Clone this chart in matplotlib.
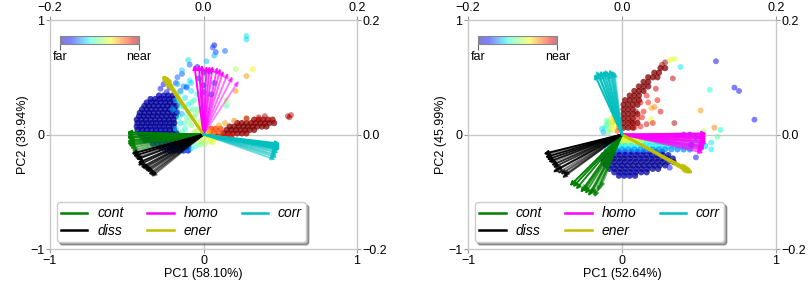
import numpy as np
import matplotlib
matplotlib.use("Agg")
import matplotlib.pyplot as plt
from matplotlib.lines import Line2D
from matplotlib.cm import ScalarMappable
from matplotlib.colors import Normalize

plt.rcParams['font.family'] = ['Liberation Sans', 'DejaVu Sans']

# explained variance per panel
var_a = (58.10, 39.94)
var_b = (52.64, 45.99)

feat_names = ["cont", "diss", "homo", "ener", "corr"]
feat_colors = ["green", "black", "magenta", "y", "c"]

# loading vector tips, left panel
cont_a = [(-0.50, 0.02), (-0.50, 0.00), (-0.50, -0.02), (-0.50, -0.03), (-0.49, -0.05),
          (-0.50, -0.06), (-0.50, -0.08), (-0.49, -0.09), (-0.49, -0.10), (-0.48, -0.12),
          (-0.47, -0.14), (-0.47, -0.16), (-0.50, 0.01), (-0.49, -0.07)]
diss_a = [(-0.47, -0.17), (-0.46, -0.19), (-0.44, -0.22), (-0.43, -0.25), (-0.43, -0.27),
          (-0.41, -0.29), (-0.40, -0.30), (-0.38, -0.32), (-0.37, -0.33), (-0.36, -0.35),
          (-0.35, -0.36), (-0.34, -0.37), (-0.45, -0.21), (-0.39, -0.31)]
homo_a = [(-0.06, 0.61), (-0.03, 0.61), (-0.01, 0.61), (0.02, 0.60), (0.04, 0.60),
          (0.06, 0.60), (0.09, 0.59), (0.11, 0.58), (0.13, 0.56), (0.16, 0.54),
          (0.19, 0.51), (0.23, 0.47)]
ener_a = [(-0.27, 0.51), (-0.26, 0.52), (-0.26, 0.50), (-0.25, 0.49), (-0.25, 0.47),
          (-0.24, 0.50), (-0.24, 0.48), (-0.23, 0.46), (-0.26, 0.49), (-0.25, 0.51),
          (-0.27, 0.52), (-0.24, 0.47)]
corr_a = [(0.50, -0.08), (0.50, -0.09), (0.50, -0.10), (0.50, -0.11), (0.50, -0.12),
          (0.50, -0.13), (0.49, -0.14), (0.49, -0.16), (0.48, -0.18), (0.48, -0.20),
          (0.47, -0.22), (0.50, -0.105), (0.50, -0.115), (0.49, -0.125)]

# loading vector tips, right panel
cont_b = [(-0.34, -0.45), (-0.32, -0.46), (-0.30, -0.48), (-0.27, -0.51), (-0.25, -0.50),
          (-0.24, -0.52), (-0.22, -0.54), (-0.21, -0.53), (-0.20, -0.52), (-0.18, -0.55),
          (-0.16, -0.50), (-0.14, -0.47), (-0.26, -0.49), (-0.19, -0.54)]
diss_b = [(-0.51, -0.17), (-0.50, -0.20), (-0.49, -0.22), (-0.48, -0.24), (-0.46, -0.27),
          (-0.45, -0.29), (-0.45, -0.33), (-0.43, -0.31), (-0.40, -0.35), (-0.39, -0.38),
          (-0.38, -0.36), (-0.42, -0.34), (-0.50, -0.18), (-0.47, -0.25)]
homo_b = [(0.55, 0.01), (0.55, 0.00), (0.55, -0.02), (0.55, -0.04), (0.55, -0.06),
          (0.55, -0.08), (0.54, -0.10), (0.54, -0.12), (0.53, -0.14), (0.53, -0.16),
          (0.54, -0.03), (0.55, -0.07), (0.54, -0.11), (0.54, -0.13)]
ener_b = [(0.42, -0.30), (0.43, -0.31), (0.44, -0.32), (0.45, -0.33), (0.46, -0.34),
          (0.44, -0.31), (0.45, -0.32), (0.43, -0.33), (0.46, -0.33), (0.44, -0.34),
          (0.43, -0.30), (0.45, -0.34)]
corr_b = [(-0.18, 0.53), (-0.16, 0.55), (-0.14, 0.56), (-0.12, 0.56), (-0.10, 0.56),
          (-0.08, 0.57), (-0.07, 0.56), (-0.06, 0.56), (-0.05, 0.55), (-0.09, 0.54),
          (-0.13, 0.54), (-0.11, 0.57), (-0.15, 0.53), (-0.17, 0.56)]

# dense clouds read row by row: (y, colour, [x positions])
blue_rows_a = [
    (0.34, 0.05, [-0.29, -0.26, -0.23, -0.20]),
    (0.31, 0.03, [-0.345, -0.315, -0.285, -0.255, -0.225, -0.195]),
    (0.28, 0.03, [-0.37, -0.34, -0.31, -0.28, -0.25, -0.22, -0.19]),
    (0.25, 0.02, [-0.385, -0.355, -0.325, -0.295, -0.265, -0.235, -0.205, -0.175]),
    (0.22, 0.02, [-0.40, -0.37, -0.34, -0.31, -0.28, -0.25, -0.22, -0.19]),
    (0.19, 0.02, [-0.415, -0.385, -0.355, -0.325, -0.295, -0.265, -0.235, -0.205, -0.175]),
    (0.16, 0.02, [-0.42, -0.39, -0.36, -0.33, -0.30, -0.27, -0.24, -0.21, -0.18]),
    (0.13, 0.02, [-0.435, -0.405, -0.375, -0.345, -0.315, -0.285, -0.255, -0.225, -0.195]),
    (0.10, 0.02, [-0.43, -0.40, -0.37, -0.34, -0.31, -0.28, -0.25, -0.22, -0.19]),
    (0.07, 0.02, [-0.435, -0.405, -0.375, -0.345, -0.315, -0.285, -0.255, -0.225, -0.195]),
    (0.04, 0.03, [-0.43, -0.40, -0.37, -0.34, -0.31, -0.28, -0.25, -0.22, -0.19]),
    (0.01, 0.03, [-0.415, -0.385, -0.355, -0.325, -0.295, -0.265, -0.235, -0.205, -0.175]),
    (-0.02, 0.04, [-0.40, -0.37, -0.34, -0.31, -0.28, -0.25, -0.22, -0.19, -0.16]),
    (-0.05, 0.05, [-0.38, -0.35, -0.32, -0.29, -0.26, -0.23, -0.20, -0.17, -0.14]),
    (-0.08, 0.07, [-0.33, -0.30, -0.27, -0.24, -0.21, -0.18, -0.15, -0.12]),
    (-0.11, 0.10, [-0.28, -0.25, -0.22, -0.19, -0.16, -0.13, -0.10]),
    (-0.14, 0.14, [-0.22, -0.19, -0.16, -0.13, -0.10]),
]
red_rows_a = [
    (0.13, 0.97, [0.33, 0.36, 0.39, 0.42, 0.45]),
    (0.10, 0.99, [0.22, 0.25, 0.28, 0.31, 0.34, 0.37, 0.40, 0.43, 0.46]),
    (0.07, 1.00, [0.17, 0.20, 0.23, 0.26, 0.29, 0.32, 0.35, 0.38, 0.41]),
    (0.04, 1.00, [0.15, 0.18, 0.21, 0.24, 0.27, 0.30, 0.33]),
    (0.01, 0.98, [0.13, 0.16, 0.19, 0.22, 0.25, 0.28]),
    (0.05, 0.85, [0.05, 0.08, 0.11]),
    (0.01, 0.82, [0.04, 0.07, 0.10]),
    (-0.02, 0.90, [0.09, 0.12, 0.15, 0.18]),
]
blue_rows_b = [
    (-0.15, 0.08, [-0.10, -0.06, -0.02, 0.02, 0.06, 0.10, 0.14, 0.18, 0.22, 0.26]),
    (-0.18, 0.04, [-0.12, -0.085, -0.05, -0.015, 0.02, 0.055, 0.09, 0.125, 0.16, 0.195, 0.23, 0.265, 0.30]),
    (-0.21, 0.02, [-0.125, -0.09, -0.055, -0.02, 0.015, 0.05, 0.085, 0.12, 0.155, 0.19, 0.225, 0.26, 0.295, 0.33]),
    (-0.24, 0.02, [-0.12, -0.085, -0.05, -0.015, 0.02, 0.055, 0.09, 0.125, 0.16, 0.195, 0.23, 0.265, 0.30, 0.335]),
    (-0.27, 0.02, [-0.105, -0.07, -0.035, 0.0, 0.035, 0.07, 0.105, 0.14, 0.175, 0.21, 0.245, 0.28]),
    (-0.30, 0.02, [-0.08, -0.045, -0.01, 0.025, 0.06, 0.095, 0.13, 0.165, 0.20, 0.235]),
    (-0.33, 0.03, [-0.05, -0.015, 0.02, 0.055, 0.09, 0.125, 0.16]),
    (-0.36, 0.04, [-0.02, 0.015, 0.05, 0.085]),
]
band_rows_b = [
    (-0.03, 0.62, [0.02, 0.06, 0.10, 0.14]),
    (-0.03, 0.50, [0.18, 0.22, 0.26, 0.30, 0.34, 0.38, 0.42, 0.46]),
    (-0.065, 0.55, [0.0, 0.04, 0.08, 0.12]),
    (-0.065, 0.42, [-0.08, -0.04, 0.16, 0.20, 0.24, 0.28, 0.32, 0.36, 0.40, 0.44, 0.48, 0.52]),
    (-0.10, 0.36, [-0.10, -0.06, -0.02, 0.02, 0.06, 0.10, 0.14, 0.18, 0.22, 0.26, 0.30, 0.34, 0.38, 0.42, 0.46, 0.50, 0.54]),
    (-0.13, 0.28, [-0.08, -0.04, 0.0, 0.04, 0.08, 0.12, 0.16, 0.20, 0.24, 0.28, 0.32, 0.36, 0.40, 0.44]),
]
red_rows_b = [
    (0.58, 1.00, [0.25, 0.28]),
    (0.54, 1.00, [0.21, 0.24]),
    (0.50, 1.00, [0.17, 0.20, 0.23]),
    (0.46, 1.00, [0.14, 0.17]),
    (0.42, 1.00, [0.11, 0.14, 0.17]),
    (0.38, 1.00, [0.08, 0.11, 0.14]),
    (0.34, 1.00, [0.05, 0.08, 0.11]),
    (0.30, 1.00, [0.02, 0.05, 0.08, 0.11]),
    (0.26, 1.00, [0.01, 0.04, 0.07, 0.10]),
    (0.22, 1.00, [0.01, 0.04, 0.07]),
    (0.18, 1.00, [0.01, 0.04, 0.07, 0.10]),
    (0.14, 1.00, [0.01, 0.04, 0.07]),
    (0.10, 1.00, [0.01, 0.04, 0.07, 0.10]),
    (0.06, 1.00, [0.01, 0.04, 0.07]),
]

# single samples (x, y, colour 0 = far, 1 = near)
pts_a = [
    (-0.28, 0.40, 0.10), (-0.26, 0.44, 0.12), (-0.22, 0.41, 0.15), (-0.18, 0.45, 0.20),
    (-0.17, 0.50, 0.22), (-0.15, 0.38, 0.18), (-0.13, 0.42, 0.25), (-0.24, 0.37, 0.05),
    # cyan / green middle
    (-0.18, 0.30, 0.35), (-0.15, 0.25, 0.40), (-0.12, 0.32, 0.35), (-0.10, 0.20, 0.45),
    (-0.08, 0.28, 0.40), (-0.06, 0.15, 0.50), (-0.12, 0.10, 0.45), (-0.16, 0.15, 0.38),
    (-0.18, 0.05, 0.35), (-0.08, 0.08, 0.50), (-0.04, 0.22, 0.45), (-0.14, 0.02, 0.42),
    (-0.06, 0.02, 0.55), (-0.10, -0.02, 0.50), (-0.20, 0.22, 0.32), (-0.04, 0.35, 0.38),
    (-0.08, 0.38, 0.35), (-0.02, 0.30, 0.55), (0.00, 0.25, 0.50), (-0.02, 0.12, 0.55),
    (-0.11, 0.42, 0.30), (-0.09, 0.47, 0.35), (-0.17, 0.44, 0.30), (-0.15, 0.37, 0.40),
    (-0.16, 0.28, 0.30), (-0.13, 0.24, 0.40), (-0.11, 0.15, 0.45), (-0.15, 0.10, 0.35),
    (-0.09, 0.12, 0.50), (-0.05, 0.18, 0.50), (-0.03, 0.08, 0.60), (-0.07, 0.22, 0.45),
    (-0.12, 0.05, 0.40), (-0.17, 0.20, 0.25), (-0.06, 0.30, 0.42), (-0.02, 0.20, 0.55),
    (-0.14, 0.18, 0.30), (-0.10, 0.26, 0.38), (-0.04, 0.04, 0.60), (-0.01, 0.06, 0.65),
    # points near the homo vectors
    (-0.10, 0.65, 0.35), (-0.09, 0.61, 0.22), (0.02, 0.64, 0.32), (-0.14, 0.53, 0.20),
    (-0.14, 0.56, 0.33), (-0.04, 0.59, 0.10), (0.00, 0.54, 0.10), (-0.11, 0.41, 0.20),
    (-0.03, 0.49, 0.10), (-0.08, 0.45, 0.33), (0.00, 0.43, 0.10), (0.00, 0.37, 0.15),
    (0.05, 0.35, 0.12), (0.07, 0.45, 0.15), (0.04, 0.55, 0.12),
    # sparse top points
    (0.28, 0.86, 0.35), (0.28, 0.83, 0.33), (0.07, 0.78, 0.10), (0.08, 0.72, 0.18),
    (0.07, 0.69, 0.30), (0.14, 0.73, 0.22), (0.06, 0.76, 0.20),
    (0.21, 0.57, 0.55), (0.32, 0.57, 0.65), (0.28, 0.51, 0.75), (0.21, 0.38, 0.75),
    (0.28, 0.14, 0.75), (0.15, 0.30, 0.55), (0.15, 0.25, 0.45), (0.14, 0.10, 0.75),
    # lower strip near the axis
    (-0.25, -0.14, 0.15), (-0.20, -0.15, 0.20), (-0.16, -0.14, 0.25), (-0.12, -0.13, 0.30),
    (-0.08, -0.12, 0.35), (-0.05, -0.10, 0.40), (-0.02, -0.09, 0.50), (0.01, -0.08, 0.55),
    (0.04, -0.06, 0.60), (0.07, -0.04, 0.65), (0.10, -0.03, 0.70), (-0.10, -0.08, 0.40),
    (-0.05, -0.05, 0.55), (0.00, -0.04, 0.60), (0.03, -0.02, 0.65), (-0.15, -0.08, 0.30),
    (-0.18, -0.12, 0.25), (0.02, -0.01, 0.65), (0.05, -0.03, 0.62), (0.03, 0.03, 0.70),
    (-0.08, -0.05, 0.45), (-0.12, -0.10, 0.32), (-0.02, -0.06, 0.55), (0.06, -0.07, 0.62),
    # sparse red / orange to the right
    (0.10, 0.08, 0.75), (0.20, 0.12, 0.80), (0.28, 0.14, 0.95), (0.36, 0.15, 0.95),
    (0.40, 0.16, 0.97), (0.55, 0.16, 0.95), (0.57, 0.17, 0.93), (0.56, 0.15, 0.97),
]

pts_b = [
    # sparse outliers
    (0.61, 0.64, 0.10), (0.73, 0.41, 0.10), (0.76, 0.38, 0.10), (0.86, 0.13, 0.12),
    (0.38, 0.59, 0.35), (0.57, 0.39, 0.38), (0.51, 0.21, 0.75), (0.60, 0.06, 0.78),
    (0.64, 0.04, 0.38), (0.53, 0.03, 0.55), (0.62, -0.02, 0.45), (0.58, -0.07, 0.35),
    (0.58, -0.13, 0.35), (0.31, -0.29, 0.12), (0.34, 0.10, 0.95), (0.33, 0.49, 0.95),
    (0.28, 0.63, 1.00), (0.26, 0.61, 0.97), (0.31, 0.65, 0.65), (0.34, 0.66, 0.62),
    (0.19, 0.23, 0.72), (0.21, 0.24, 0.78), (0.19, 0.13, 0.62), (0.16, 0.34, 0.90),
    (0.13, 0.15, 0.90), (0.16, 0.09, 0.92),
    # lighter red around the band
    (0.20, 0.10, 0.90), (0.25, 0.20, 0.92), (0.14, 0.20, 0.90), (0.22, 0.40, 0.93),
    (0.12, 0.28, 0.93), (0.10, 0.14, 0.92), (0.08, 0.06, 0.93), (0.12, 0.07, 0.90),
    (0.09, 0.20, 0.95), (0.06, 0.11, 0.96), (0.17, 0.28, 0.88), (0.23, 0.30, 0.90),
    # rainbow fan left of origin
    (-0.12, 0.02, 0.30), (-0.11, 0.06, 0.40), (-0.09, 0.10, 0.50), (-0.07, 0.14, 0.60),
    (-0.05, 0.16, 0.70), (-0.03, 0.14, 0.75), (-0.08, 0.05, 0.55), (-0.05, 0.08, 0.65),
    (-0.02, 0.06, 0.80), (-0.10, 0.12, 0.45), (-0.06, 0.11, 0.68), (-0.03, 0.03, 0.85),
    (-0.13, 0.05, 0.35), (-0.10, 0.08, 0.42), (-0.07, 0.09, 0.58), (-0.04, 0.12, 0.72),
    (-0.02, 0.10, 0.80), (-0.06, 0.04, 0.62), (-0.09, 0.02, 0.48), (-0.04, 0.18, 0.70),
    # purple points among the homo vectors
    (0.40, 0.00, 0.12), (0.44, 0.00, 0.10), (0.48, -0.02, 0.12), (0.52, -0.04, 0.15),
    (0.45, -0.09, 0.12), (0.48, -0.20, 0.12), (0.36, -0.01, 0.15),
    # green / yellow right under the origin
    (0.02, -0.02, 0.68), (0.05, -0.04, 0.66), (0.08, -0.02, 0.60), (0.11, -0.05, 0.58),
    (0.01, -0.05, 0.62),
]

GREY = "#c8c8c8"


def rows_to_points(rows):
    out = []
    for y, c, xs in rows:
        for x in xs:
            out.append((x, y, c))
    return out


def draw_panel(ax, clouds, pts, vectors, var):
    ax.set_xlim(-1, 1)
    ax.set_ylim(-1, 1)
    ax.axhline(0, color=GREY, lw=1, zorder=0)
    ax.axvline(0, color=GREY, lw=1, zorder=0)
    # dense clouds (overlapping samples look nearly opaque)
    q = np.array(clouds)
    ax.scatter(q[:, 0], q[:, 1], c=q[:, 2], cmap="jet", vmin=0, vmax=1,
               s=20, alpha=0.75, linewidths=0, zorder=2)
    p = np.array(pts)
    ax.scatter(p[:, 0], p[:, 1], c=p[:, 2], cmap="jet", vmin=0, vmax=1,
               s=18, alpha=0.5, linewidths=0, zorder=2)
    for tips, col in zip(vectors, feat_colors):
        alphas = np.linspace(1.0, 0.45, len(tips))
        for (tx, ty), a in zip(tips, alphas):
            ax.annotate("", xy=(tx, ty), xytext=(0, 0), zorder=3,
                        arrowprops=dict(arrowstyle="-|>", color=col, lw=1.4, alpha=a,
                                        shrinkA=0, shrinkB=0, mutation_scale=6))
    ax.set_xticks([-1, 0, 1])
    ax.set_yticks([-1, 0, 1])
    ax.set_xlabel(f"PC1 ({var[0]:.2f}%)", fontsize=9, labelpad=1)
    ax.set_ylabel(f"PC2 ({var[1]:.2f}%)", fontsize=9, labelpad=1)

    top = ax.twiny()
    top.set_xlim(-0.2, 0.2)
    top.set_xticks([-0.2, 0.0, 0.2])
    right = ax.twinx()
    right.set_ylim(-0.2, 0.2)
    right.set_yticks([-0.2, 0.0, 0.2])
    for a in (ax, top, right):
        for sp in a.spines.values():
            sp.set_color(GREY)
        a.tick_params(labelsize=9, color="#999999", length=3, pad=1)

    handles = [Line2D([], [], color=c, lw=1.8) for c in feat_colors]
    ax.legend(handles, feat_names, loc="lower left", ncol=3, shadow=True,
              fancybox=True, framealpha=1, edgecolor="#cccccc",
              prop={"style": "italic", "size": 10}, handlelength=1.9,
              handletextpad=0.7, columnspacing=1.7, labelspacing=0.25,
              borderpad=0.3, borderaxespad=0.5)

    cax = ax.inset_axes([0.033, 0.895, 0.257, 0.037])
    cb = fig.colorbar(ScalarMappable(norm=Normalize(0, 1), cmap="jet"), cax=cax,
                      orientation="horizontal", ticks=[0, 1], alpha=0.5)
    cb.set_ticklabels(["far", "near"])
    cb.outline.set_edgecolor("#888888")
    cax.tick_params(labelsize=9, color="#666666", length=4, pad=1)


fig = plt.figure(figsize=(8.09, 2.84), dpi=100)
ax1 = fig.add_axes([0.0618, 0.1232, 0.3795, 0.8063])
ax2 = fig.add_axes([0.5785, 0.1232, 0.3807, 0.8063])

clouds_a = rows_to_points(blue_rows_a) + rows_to_points(red_rows_a)
clouds_b = rows_to_points(blue_rows_b) + rows_to_points(band_rows_b) + rows_to_points(red_rows_b)

draw_panel(ax1, clouds_a, pts_a, [cont_a, diss_a, homo_a, ener_a, corr_a], var_a)
draw_panel(ax2, clouds_b, pts_b, [cont_b, diss_b, homo_b, ener_b, corr_b], var_b)

fig.savefig("out.png", dpi=100)
